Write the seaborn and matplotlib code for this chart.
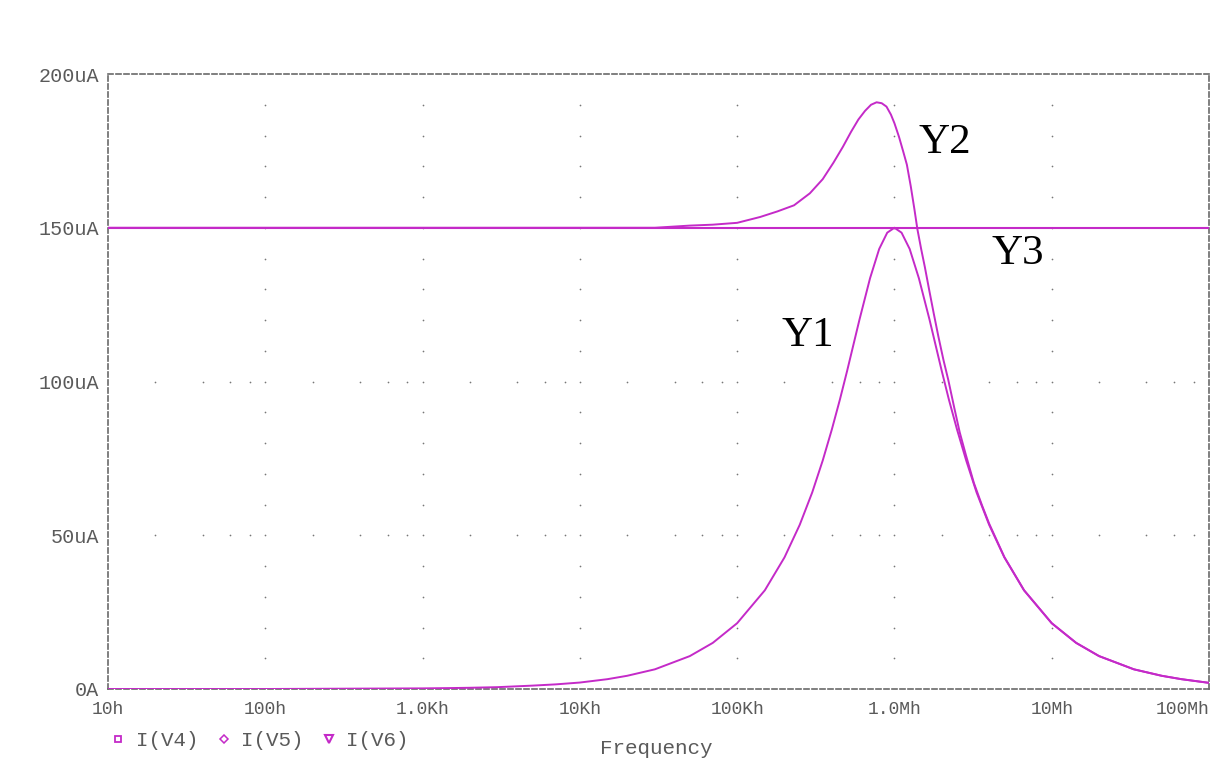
import numpy as np
import seaborn as sns
import matplotlib
matplotlib.use('Agg')
import matplotlib.pyplot as plt
from matplotlib.lines import Line2D

# valeurs (courant en uA, fréquence en Hz)
freq_y1 = [10, 100, 1e3, 1.5e3, 2e3, 3e3, 5e3, 7e3, 1e4, 1.5e4, 2e4, 3e4, 5e4, 7e4,
           1e5, 1.5e5, 2e5, 2.5e5, 3e5, 3.5e5, 4e5, 4.5e5, 5e5, 6e5, 7e5, 8e5, 9e5,
           1e6, 1.11e6, 1.25e6, 1.43e6, 1.67e6, 2e6, 2.22e6, 2.5e6, 2.86e6, 3.33e6,
           4e6, 5e6, 6.67e6, 1e7, 1.43e7, 2e7, 3.33e7, 5e7, 6.67e7, 1e8]
y1 = [0.0, 0.0, 0.2, 0.3, 0.4, 0.6, 1.1, 1.5, 2.1, 3.2, 4.3, 6.4, 10.7, 15.0,
      21.4, 32.1, 42.8, 53.4, 63.9, 74.3, 84.4, 94.1, 103.4, 120.2, 133.6, 143.1, 148.4,
      150.0, 148.4, 143.1, 133.6, 120.2, 103.4, 94.1, 84.4, 74.3, 63.9,
      53.4, 42.8, 32.1, 21.4, 15.0, 10.7, 6.4, 4.3, 3.2, 2.0]

freq_y2 = [10, 100, 1e3, 1e4, 3e4, 5e4, 7e4, 1e5, 1.4e5, 1.8e5, 2.3e5, 2.9e5, 3.5e5,
           4.1e5, 4.7e5, 5.3e5, 5.9e5, 6.5e5, 7.1e5, 7.7e5, 8.3e5, 8.9e5, 9.5e5, 1e6,
           1.07e6, 1.14e6, 1.2e6, 1.27e6, 1.34e6, 1.4e6, 1.48e6, 1.56e6, 1.66e6,
           1.78e6, 1.9e6, 2.05e6, 2.2e6, 2.4e6, 2.6e6, 2.85e6, 3.2e6, 3.6e6, 4e6,
           5e6, 6.67e6, 1e7, 1.43e7, 2e7, 3.33e7, 5e7, 6.67e7, 1e8]
y2 = [150.0, 150.0, 150.0, 150.0, 150.0, 150.7, 151.0, 151.6, 153.5, 155.3, 157.3,
      161.2, 165.8, 171.2, 176.3, 181.2, 185.2, 188.0, 190.0, 190.8, 190.5, 189.4,
      186.8, 184.0, 179.5, 174.6, 170.5, 163.5, 156.0, 149.5, 143.0, 137.3, 130.0,
      122.0, 114.8, 107.0, 100.5, 91.5, 83.5, 76.0, 67.0, 59.8, 53.8,
      42.9, 32.1, 21.4, 15.0, 10.7, 6.4, 4.3, 3.2, 2.0]

freq_y3 = [10, 1e8]
y3 = [150.0, 150.0]

x_ticks = [10, 100, 1e3, 1e4, 1e5, 1e6, 1e7, 1e8]
x_labels = ['10h', '100h', '1.0Kh', '10Kh', '100Kh', '1.0Mh', '10Mh', '100Mh']
y_ticks = [0, 50, 100, 150, 200]
y_labels = ['0A', '50uA', '100uA', '150uA', '200uA']
legend_labels = ['I(V4)', 'I(V5)', 'I(V6)']

trace = '#c42ac8'
grey = '#5a5a5a'
mono = 'Liberation Mono'

sns.set_style('white')
plt.rcParams['font.family'] = ['DejaVu Sans']

fig = plt.figure(figsize=(12.18, 7.64), dpi=100)
ax = fig.add_axes([108 / 1218, 75 / 764, 1101 / 1218, 615 / 764])

# grille en pointillés façon PSpice
gx, gy = [], []
for d in x_ticks[1:-1]:
    for v in range(10, 200, 10):
        gx.append(d)
        gy.append(v)
for d in x_ticks[:-1]:
    for m in [2, 4, 6, 8]:
        for v in [50, 100]:
            gx.append(d * m)
            gy.append(v)
ax.scatter(gx, gy, s=1.5, color='#777777', zorder=1, linewidths=0)

sns.lineplot(x=freq_y3, y=y3, ax=ax, color=trace, lw=1.5, zorder=3)
sns.lineplot(x=freq_y2, y=y2, ax=ax, color=trace, lw=1.4, zorder=3)
sns.lineplot(x=freq_y1, y=y1, ax=ax, color=trace, lw=1.4, zorder=3)

ax.set_xscale('log')
ax.set_xlim(10, 1e8)
ax.set_ylim(0, 200)
ax.set_xticks(x_ticks)
ax.set_xticklabels(x_labels)
ax.minorticks_off()
ax.set_yticks(y_ticks)
ax.set_yticklabels(y_labels)
ax.set_xlabel('')
ax.set_ylabel('')

for s in ax.spines.values():
    s.set_visible(True)
    s.set_color('#6a6a6a')
    s.set_linewidth(1.2)
    s.set_linestyle((0, (3, 1.8)))

ax.tick_params(axis='x', direction='out', length=5, width=1, color=grey,
               labelsize=13, labelcolor=grey, pad=4)
ax.tick_params(axis='y', direction='inout', length=9, width=1, color=grey,
               labelsize=14.5, labelcolor=grey, pad=2)
for lab in ax.get_xticklabels() + ax.get_yticklabels():
    lab.set_fontfamily(mono)
ax.get_xticklabels()[-1].set_horizontalalignment('right')

# étiquettes des courbes
for txt, xx, yy in [('Y1', 2.82e5, 115), ('Y2', 2.1e6, 177.5), ('Y3', 6.1e6, 141.5)]:
    ax.text(xx, yy, txt, fontsize=31, family='Liberation Serif', color='black',
            ha='center', va='center')

handles = [
    Line2D([], [], ls='none', marker='s', ms=5, mfc='white', mec=trace, mew=1.3),
    Line2D([], [], ls='none', marker='D', ms=4, mfc='white', mec=trace, mew=1.1),
    Line2D([], [], ls='none', marker='v', ms=6, mfc='white', mec=trace, mew=1.5),
]
leg = fig.legend(handles, legend_labels, loc='center left', ncol=3,
                 bbox_to_anchor=(110 / 1218, 1 - 741 / 764), frameon=False,
                 prop={'family': mono, 'size': 15}, handlelength=0.8,
                 handletextpad=0.45, columnspacing=0.8, borderaxespad=0,
                 borderpad=0)
for t in leg.get_texts():
    t.set_color(grey)

fig.text(656 / 1218, 1 - 749 / 764, 'Frequency', family=mono, fontsize=15,
         color=grey, ha='center', va='center')

fig.savefig('out.png', dpi=100)
